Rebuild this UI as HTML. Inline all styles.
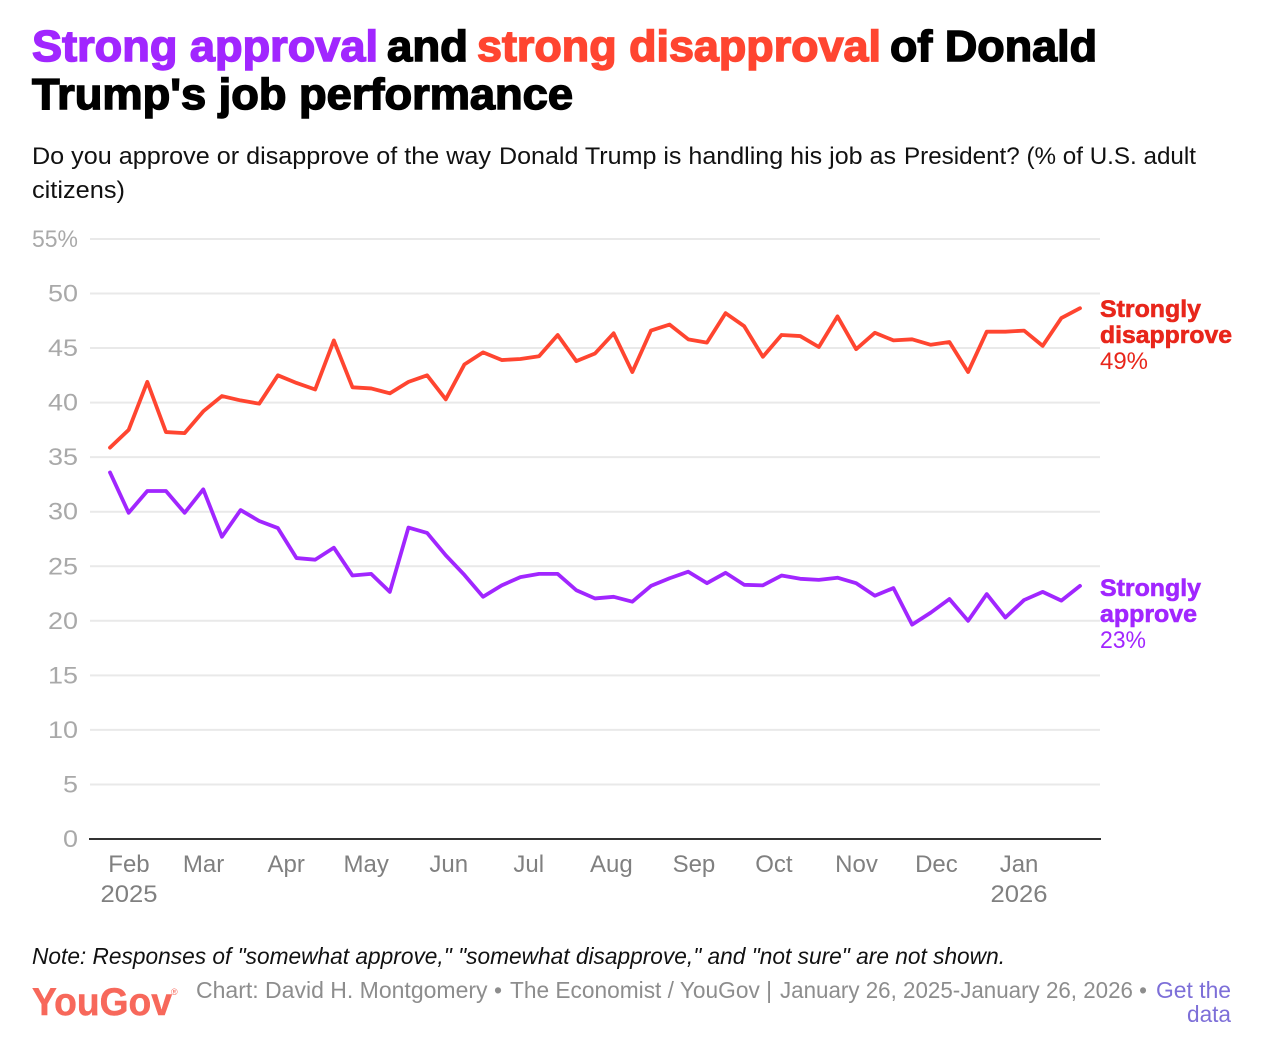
<!DOCTYPE html>
<html lang="en">
<head>
<meta charset="utf-8">
<title>Strong approval and strong disapproval of Donald Trump's job performance</title>
<style>
html,body{margin:0;padding:0;background:#fff;width:1270px;height:1060px;overflow:hidden}
svg{display:block;font-family:"Liberation Sans",sans-serif}
.title{font-size:44px;font-weight:700;stroke-width:1.5px;letter-spacing:0}
.sub{font-size:24px;fill:#111}
.foot{font-size:23px;fill:#8d8d8d}
.end{font-size:24px;font-weight:700;stroke-width:.6px}
</style>
</head>
<body>
<svg id="chart" width="1270" height="1060" viewBox="0 0 1270 1060" xmlns="http://www.w3.org/2000/svg">
  <g>
    <text class="title" x="32" y="61" textLength="346" lengthAdjust="spacingAndGlyphs" fill="#a126ff" stroke="#a126ff">Strong approval</text>
    <text class="title" x="387" y="61" textLength="81" lengthAdjust="spacingAndGlyphs" fill="#000" stroke="#000">and</text>
    <text class="title" x="477" y="61" textLength="404" lengthAdjust="spacingAndGlyphs" fill="#ff4530" stroke="#ff4530">strong disapproval</text>
    <text class="title" x="890" y="61" textLength="207" lengthAdjust="spacingAndGlyphs" fill="#000" stroke="#000">of Donald</text>
    <text class="title" x="32" y="109" textLength="541" lengthAdjust="spacingAndGlyphs" fill="#000" stroke="#000">Trump's job performance</text>
  </g>
  <g>
    <text class="sub" x="32" y="164" textLength="459" lengthAdjust="spacingAndGlyphs">Do you approve or disapprove of the way</text>
    <text class="sub" x="499" y="164" textLength="397" lengthAdjust="spacingAndGlyphs">Donald Trump is handling his job as</text>
    <text class="sub" x="904" y="164" textLength="292" lengthAdjust="spacingAndGlyphs">President? (% of U.S. adult</text>
    <text class="sub" x="32" y="198" textLength="93" lengthAdjust="spacingAndGlyphs">citizens)</text>
  </g>
  <g id="grid"></g>
  <g id="yLabels"></g>
  <line x1="89" x2="1101" y1="839" y2="839" stroke="#333" stroke-width="2"></line>
  <g id="xLabels"></g>
  <g id="series"></g>
  <g id="endLabels"></g>
  <text x="32" y="964" font-size="23" font-style="italic" fill="#111" textLength="973" lengthAdjust="spacingAndGlyphs">Note: Responses of "somewhat approve," "somewhat disapprove," and "not sure" are not shown.</text>
  <text x="32" y="1015" font-size="39" font-weight="700" fill="#f7685b" stroke="#f7685b" stroke-width=".5" textLength="140" lengthAdjust="spacingAndGlyphs">YouGov</text>
  <text x="171" y="995" font-size="9" fill="#f7685b">®</text>
  <g>
    <text class="foot" x="196" y="998" textLength="306" lengthAdjust="spacingAndGlyphs">Chart: David H. Montgomery •</text>
    <text class="foot" x="510" y="998" textLength="262" lengthAdjust="spacingAndGlyphs">The Economist / YouGov |</text>
    <text class="foot" x="780" y="998" textLength="367" lengthAdjust="spacingAndGlyphs">January 26, 2025-January 26, 2026 •</text>
  </g>
  <text class="foot" x="1156" y="998" textLength="75" lengthAdjust="spacingAndGlyphs" style="fill:#7d6fd8">Get the</text>
  <text class="foot" x="1187" y="1022" textLength="44" lengthAdjust="spacingAndGlyphs" style="fill:#7d6fd8">data</text>
</svg>
<script>
const weeks = ["2025-01-26","2025-02-02","2025-02-09","2025-02-16","2025-02-23","2025-03-02","2025-03-09","2025-03-16","2025-03-23","2025-03-30","2025-04-06","2025-04-13","2025-04-20","2025-04-27","2025-05-04","2025-05-11","2025-05-18","2025-05-25","2025-06-01","2025-06-08","2025-06-15","2025-06-22","2025-06-29","2025-07-06","2025-07-13","2025-07-20","2025-07-27","2025-08-03","2025-08-10","2025-08-17","2025-08-24","2025-08-31","2025-09-07","2025-09-14","2025-09-21","2025-09-28","2025-10-05","2025-10-12","2025-10-19","2025-10-26","2025-11-02","2025-11-09","2025-11-16","2025-11-23","2025-11-30","2025-12-07","2025-12-14","2025-12-21","2025-12-28","2026-01-04","2026-01-11","2026-01-18","2026-01-25"];
const stronglyDisapprove = [35.87,37.5,41.9,37.3,37.2,39.2,40.6,40.2,39.9,42.5,41.8,41.2,45.7,41.4,41.3,40.85,41.9,42.5,40.3,43.5,44.6,43.9,44.0,44.25,46.2,43.8,44.5,46.35,42.8,46.6,47.15,45.8,45.5,48.2,47.0,44.2,46.2,46.1,45.1,47.9,44.9,46.4,45.7,45.8,45.3,45.55,42.8,46.5,46.5,46.6,45.2,47.75,48.65];
const stronglyApprove = [33.6,29.9,31.9,31.9,29.9,32.05,27.7,30.15,29.15,28.5,25.75,25.6,26.7,24.15,24.3,22.65,28.55,28.05,26.0,24.2,22.2,23.25,24.0,24.3,24.3,22.8,22.05,22.2,21.75,23.2,23.9,24.5,23.45,24.4,23.3,23.25,24.15,23.85,23.75,23.95,23.45,22.3,23.0,19.65,20.75,22.0,20.0,22.45,20.3,21.9,22.65,21.85,23.2];
const yTicks = [0,5,10,15,20,25,30,35,40,45,50,55];
const monthTicks = ["2025-02-01","2025-03-01","2025-04-01","2025-05-01","2025-06-01","2025-07-01","2025-08-01","2025-09-01","2025-10-01","2025-11-01","2025-12-01","2026-01-01"];
const monthLabels = ["Feb","Mar","Apr","May","Jun","Jul","Aug","Sep","Oct","Nov","Dec","Jan"];
const yearLabels = ["2025","","","","","","","","","","","2026"];

const NS = "http://www.w3.org/2000/svg";
const t0 = Date.parse(weeks[0]);
const t1 = Date.parse(weeks[weeks.length - 1]);
function xScale(dateStr){ return 110 + (Date.parse(dateStr) - t0) / (t1 - t0) * 970; }
function yScale(v){ return 839 - v * (839 - 293.5) / 50; }

const grid = document.getElementById("grid");
const yLabels = document.getElementById("yLabels");
yTicks.forEach(function(t){
  if (t !== 0) {
    const l = document.createElementNS(NS, "line");
    
    
    l.setAttribute("x1", 90);
    l.setAttribute("x2", 1100);
    l.setAttribute("y1", yScale(t));
    l.setAttribute("y2", yScale(t));
    l.setAttribute("stroke", "#e9e9e9");
    l.setAttribute("stroke-width", 2);
    grid.appendChild(l);
  }
  const label = t === 55 ? "55%" : String(t);
  const txt = document.createElementNS(NS, "text");
  
  
  txt.setAttribute("x", 78 - (t === 55 ? 46 : String(t).length * 15));
  txt.setAttribute("y", yScale(t) + 8);
  txt.setAttribute("font-size", 24);
  txt.setAttribute("fill", "#a9a9a9");
  txt.setAttribute("textLength", t === 55 ? 46 : String(t).length * 15);
  txt.setAttribute("lengthAdjust", "spacingAndGlyphs");
  txt.textContent = label;
  yLabels.appendChild(txt);
});

const xLabels = document.getElementById("xLabels");
monthTicks.forEach(function(d, i){
  const x = xScale(d) + 3;
  const m = document.createElementNS(NS, "text");
  
  
  m.setAttribute("x", x);
  m.setAttribute("y", 872);
  m.setAttribute("text-anchor", "middle");
  m.setAttribute("font-size", 24);
  m.setAttribute("fill", "#808080");
  m.textContent = monthLabels[i];
  xLabels.appendChild(m);
  if (yearLabels[i]) {
    const y = document.createElementNS(NS, "text");
    
    
    y.setAttribute("x", x - 28.5);
    y.setAttribute("y", 902);
    y.setAttribute("font-size", 24);
    y.setAttribute("fill", "#808080");
    y.setAttribute("textLength", 57);
    y.setAttribute("lengthAdjust", "spacingAndGlyphs");
    y.textContent = yearLabels[i];
    xLabels.appendChild(y);
  }
});

function pathFor(values){
  return values.map(function(v, i){
    return (i ? "L" : "M") + xScale(weeks[i]).toFixed(2) + " " + yScale(v).toFixed(2);
  }).join(" ");
}
const series = document.getElementById("series");
const approveLine = document.createElementNS(NS, "path");


approveLine.setAttribute("d", pathFor(stronglyApprove));
approveLine.setAttribute("fill", "none");
approveLine.setAttribute("stroke", "#a126ff");
approveLine.setAttribute("stroke-width", 3.8);
approveLine.setAttribute("stroke-linejoin", "round");
approveLine.setAttribute("stroke-linecap", "round");
series.appendChild(approveLine);
const disapproveLine = document.createElementNS(NS, "path");


disapproveLine.setAttribute("d", pathFor(stronglyDisapprove));
disapproveLine.setAttribute("fill", "none");
disapproveLine.setAttribute("stroke", "#ff4530");
disapproveLine.setAttribute("stroke-width", 3.8);
disapproveLine.setAttribute("stroke-linejoin", "round");
disapproveLine.setAttribute("stroke-linecap", "round");
series.appendChild(disapproveLine);

const endLabels = document.getElementById("endLabels");
function addEnd(text, dy, color, bold, len){
  const t = document.createElementNS(NS, "text");
  
  
  t.setAttribute("x", 1100);
  t.setAttribute("y", dy);
  t.setAttribute("fill", color);
  t.setAttribute("font-size", 24);
  if (bold) {
    t.setAttribute("class", "end");
    t.setAttribute("stroke", color);
  }
  t.setAttribute("textLength", len);
  t.setAttribute("lengthAdjust", "spacingAndGlyphs");
  t.textContent = text;
  endLabels.appendChild(t);
}
const redLast = stronglyDisapprove[stronglyDisapprove.length - 1];
const purpleLast = stronglyApprove[stronglyApprove.length - 1];
const redY = yScale(redLast) + 9;
const purpleY = yScale(purpleLast) + 10;
addEnd("Strongly", redY, "#e8261b", true, 101);
addEnd("disapprove", redY + 26, "#e8261b", true, 132);
addEnd(Math.round(redLast) + "%", redY + 52, "#e8261b", false, 48);
addEnd("Strongly", purpleY, "#a126ff", true, 101);
addEnd("approve", purpleY + 26, "#a126ff", true, 97);
addEnd(Math.round(purpleLast) + "%", purpleY + 52, "#a126ff", false, 46);
</script>
</body>
</html>
